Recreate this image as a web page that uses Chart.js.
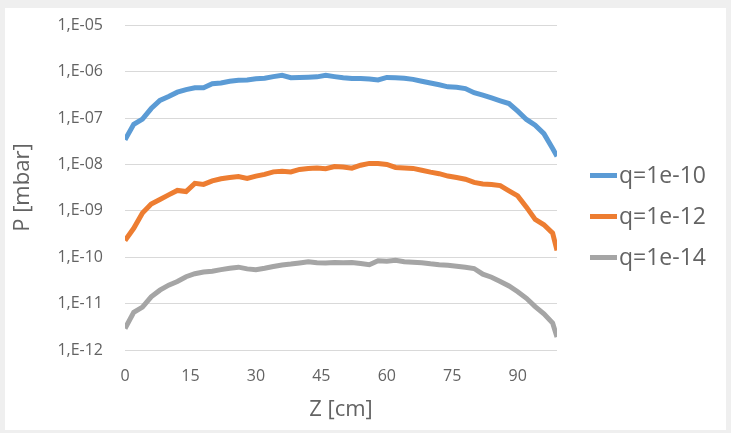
<!DOCTYPE html>
<html>
<head>
<meta charset="utf-8">
<script src="https://cdn.jsdelivr.net/npm/chart.js@4/dist/chart.umd.min.js"></script>
<style>
    html, body { margin: 0; padding: 0; background: #efefef; }
    #panel { position: absolute; left: 5px; top: 8px; width: 721px; height: 422px; background: #ffffff; }
    #wrap { position: absolute; left: 0; top: 0; width: 731px; height: 433px; }
</style>
</head>
<body>
<div id="panel"></div>
<div id="wrap"><canvas id="chart" width="731" height="433"></canvas></div>
<script>
    'use strict';

    // Z positions [cm]
    var zValues = [0, 2, 4, 6, 8, 10, 12, 14, 16, 18, 20, 22, 24, 26, 28, 30, 32, 34, 36, 38,
        40, 42, 44, 46, 48, 50, 52, 54, 56, 58, 60, 62, 64, 66, 68, 70, 72, 74, 76, 78,
        80, 82, 84, 86, 88, 90, 92, 94, 96, 98, 99];

    // pressure [mbar], q=1e-10
    var pQ10 = [3.4e-8, 7.3e-8, 9.5e-8, 1.6e-7, 2.4e-7, 2.9e-7, 3.6e-7, 4.1e-7, 4.5e-7, 4.5e-7,
        5.5e-7, 5.7e-7, 6.2e-7, 6.5e-7, 6.6e-7, 7.0e-7, 7.2e-7, 7.8e-7, 8.3e-7, 7.4e-7,
        7.5e-7, 7.6e-7, 7.7e-7, 8.3e-7, 7.8e-7, 7.4e-7, 7.1e-7, 7.1e-7, 6.9e-7, 6.6e-7,
        7.5e-7, 7.4e-7, 7.2e-7, 6.8e-7, 6.2e-7, 5.7e-7, 5.2e-7, 4.7e-7, 4.6e-7, 4.3e-7,
        3.5e-7, 3.1e-7, 2.7e-7, 2.35e-7, 2.05e-7, 1.4e-7, 9.3e-8, 7.0e-8, 4.6e-8, 2.2e-8, 1.5e-8];

    // pressure [mbar], q=1e-12
    var pQ12 = [2.3e-10, 4.2e-10, 9.0e-10, 1.4e-9, 1.75e-9, 2.2e-9, 2.75e-9, 2.6e-9, 3.9e-9, 3.7e-9,
        4.4e-9, 4.9e-9, 5.2e-9, 5.5e-9, 5.0e-9, 5.6e-9, 6.1e-9, 6.9e-9, 7.1e-9, 6.9e-9,
        7.8e-9, 8.2e-9, 8.4e-9, 8.1e-9, 9.0e-9, 8.8e-9, 8.3e-9, 9.6e-9, 1.05e-8, 1.05e-8,
        1.0e-8, 8.6e-9, 8.4e-9, 8.2e-9, 7.5e-9, 6.8e-9, 6.3e-9, 5.6e-9, 5.2e-9, 4.8e-9,
        4.1e-9, 3.8e-9, 3.7e-9, 3.5e-9, 2.7e-9, 2.1e-9, 1.2e-9, 6.5e-10, 5.0e-10, 3.3e-10, 1.4e-10];

    // pressure [mbar], q=1e-14
    var pQ14 = [2.9e-12, 6.5e-12, 8.4e-12, 1.4e-11, 1.95e-11, 2.5e-11, 3.0e-11, 3.8e-11, 4.4e-11, 4.8e-11,
        5.0e-11, 5.4e-11, 5.8e-11, 6.1e-11, 5.6e-11, 5.4e-11, 5.8e-11, 6.3e-11, 6.8e-11, 7.1e-11,
        7.5e-11, 8.0e-11, 7.6e-11, 7.5e-11, 7.7e-11, 7.6e-11, 7.7e-11, 7.3e-11, 6.9e-11, 8.4e-11,
        8.2e-11, 8.6e-11, 8.0e-11, 7.8e-11, 7.6e-11, 7.2e-11, 6.9e-11, 6.7e-11, 6.4e-11, 6.1e-11,
        5.7e-11, 4.3e-11, 3.7e-11, 3.0e-11, 2.4e-11, 1.8e-11, 1.3e-11, 8.6e-12, 6.0e-12, 3.8e-12, 1.9e-12];

    var seriesLabels = ['q=1e-10', 'q=1e-12', 'q=1e-14'];
    var seriesColors = ['#5b9bd5', '#ed7d31', '#a5a5a5'];

    var xTicks = [0, 15, 30, 45, 60, 75, 90];
    var yTicks = [1e-12, 1e-11, 1e-10, 1e-9, 1e-8, 1e-7, 1e-6, 1e-5];

    var textColor = '#636363';
    var fontFamily = '"Open Sans", sans-serif';

    function toPoints(values) {
        return values.map(function(v, i) { return { x: zValues[i], y: v }; });
    }

    function formatExp(v) {
        var e = Math.round(Math.log10(v));
        var s = Math.abs(e) < 10 ? '0' + Math.abs(e) : '' + Math.abs(e);
        return '1,E' + (e < 0 ? '-' : '+') + s;
    }

    // Excel-style legend: short thick line right next to the label
    var sideLegend = {
        id: 'sideLegend',
        afterDraw: function(chart) {
            var ctx = chart.ctx;
            var lineStart = chart.chartArea.right + 33;
            var spacing = 41;
            var n = chart.data.datasets.length;
            var top = chart.height / 2 - spacing * (n - 1) / 2;

            ctx.save();
            ctx.font = '23px ' + fontFamily;
            ctx.textBaseline = 'middle';
            ctx.textAlign = 'left';
            chart.data.datasets.forEach(function(ds, i) {
                var y = top + i * spacing;
                ctx.strokeStyle = ds.borderColor;
                ctx.lineWidth = 5;
                ctx.beginPath();
                ctx.moveTo(lineStart, y);
                ctx.lineTo(lineStart + 27, y);
                ctx.stroke();
                ctx.fillStyle = textColor;
                ctx.fillText(ds.label, lineStart + 29, y + 1);
            });
            ctx.restore();
        }
    };

    var datasets = [pQ10, pQ12, pQ14].map(function(vals, i) {
        return {
            label: seriesLabels[i],
            data: toPoints(vals),
            borderColor: seriesColors[i],
            backgroundColor: seriesColors[i],
            borderWidth: 5,
            pointRadius: 0,
            tension: 0,
            fill: false
        };
    });

    new Chart(document.getElementById('chart'), {
        type: 'line',
        data: { datasets: datasets },
        plugins: [sideLegend],
        options: {
            responsive: false,
            animation: false,
            layout: {
                padding: { left: 10, right: 174, top: 0, bottom: 10 }
            },
            plugins: {
                legend: { display: false },
                tooltip: { enabled: false }
            },
            scales: {
                x: {
                    type: 'linear',
                    min: 0,
                    max: 99,
                    afterBuildTicks: function(scale) {
                        scale.ticks = xTicks.map(function(v) { return { value: v }; });
                    },
                    afterFit: function(scale) {
                        scale.height = 73;
                    },
                    grid: { display: false, drawTicks: false },
                    border: { display: false },
                    ticks: {
                        color: textColor,
                        font: { family: fontFamily, size: 16 },
                        padding: 17,
                        maxRotation: 0
                    },
                    title: {
                        display: true,
                        text: 'Z [cm]',
                        color: textColor,
                        font: { family: fontFamily, size: 22 },
                        padding: { top: 0, bottom: 0 }
                    }
                },
                y: {
                    type: 'logarithmic',
                    min: 1e-12,
                    max: 1e-5,
                    afterBuildTicks: function(scale) {
                        scale.ticks = yTicks.map(function(v) { return { value: v, major: false }; });
                    },
                    afterFit: function(scale) {
                        scale.width = 115;
                    },
                    grid: { color: '#d9d9d9', lineWidth: 1, drawTicks: false },
                    border: { display: false },
                    ticks: {
                        color: textColor,
                        // small lineHeight keeps the top gap tight (label padding is added to it)
                        font: { family: fontFamily, size: 16, lineHeight: 0.4 },
                        padding: 22,
                        callback: function(v) { return formatExp(v); }
                    },
                    title: {
                        display: true,
                        text: 'P [mbar]',
                        color: textColor,
                        font: { family: fontFamily, size: 22 },
                        padding: { top: 0, bottom: 0 }
                    }
                }
            }
        }
    });
</script>
</body>
</html>
